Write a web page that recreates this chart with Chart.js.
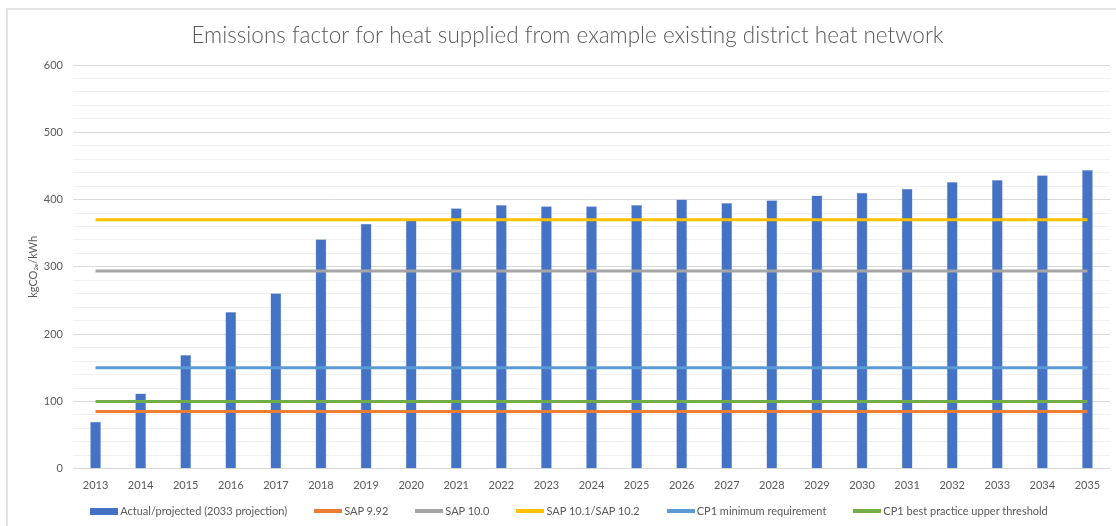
<!DOCTYPE html>
<html>
<head>
<meta charset="utf-8">
<script src="https://cdn.jsdelivr.net/npm/chart.js@4/dist/chart.umd.min.js"></script>
<style>
    html, body { margin: 0; padding: 0; background: #fff; }
    #wrap { position: relative; width: 1116px; height: 526px; overflow: hidden; }
    #frame {
        position: absolute; left: 6px; top: 8px; width: 1200px; height: 600px;
        border-left: 2px solid #e4e4e4; border-top: 2px solid #e4e4e4;
    }
    canvas { position: absolute; left: 0; top: 0; }
    #legend {
        position: absolute; left: 0; width: 1138px; top: 503px;
        display: flex; justify-content: center; align-items: center; gap: 27px;
        font-family: Lato, "Open Sans", sans-serif; font-size: 11px; color: #595959;
        line-height: 16px; white-space: nowrap;
    }
    #legend .item { display: flex; align-items: center; }
    #legend .sw { width: 28px; margin-right: 2px; }
</style>
</head>
<body>
<div id="wrap">
    <div id="frame"></div>
    <canvas id="emissionsChart" width="1116" height="526"></canvas>
    <div id="legend"></div>
</div>
<script>
// Years on the x axis
const years = ['2013', '2014', '2015', '2016', '2017', '2018', '2019', '2020', '2021', '2022', '2023', '2024',
    '2025', '2026', '2027', '2028', '2029', '2030', '2031', '2032', '2033', '2034', '2035'];

// Actual/projected emissions factor (kgCO2e/kWh)
const actualProjected = [70, 112, 169, 233, 261, 341, 364, 369, 387, 392, 390, 390,
    392, 400, 395, 399, 406, 410, 416, 426, 429, 436, 444];

// Reference thresholds
const sap992 = 85;
const sap100 = 294;
const sap101 = 370;
const cp1Minimum = 150;
const cp1BestPractice = 100;

const yTicks = [0, 100, 200, 300, 400, 500, 600];

function flatLine(value) {
    return [
        { x: years[0], y: value },
        { x: years[years.length - 1], y: value }
    ];
}

function lineSet(label, value, color) {
    return {
        type: 'line',
        label: label,
        data: flatLine(value),
        borderColor: color,
        backgroundColor: color,
        borderWidth: 3,
        pointRadius: 0,
        order: 0
    };
}

const font = 'Lato, "Open Sans", sans-serif';
const textColor = '#595959';

const ctx = document.getElementById('emissionsChart').getContext('2d');
const chart = new Chart(ctx, {
    type: 'bar',
    data: {
        labels: years,
        datasets: [
            {
                label: 'Actual/projected (2033 projection)',
                data: actualProjected,
                backgroundColor: '#4472C4',
                borderColor: '#8fabdc',
                borderWidth: 0.5,
                barPercentage: 0.24,
                categoryPercentage: 1,
                order: 1
            },
            lineSet('SAP 9.92', sap992, '#ED7D31'),
            lineSet('SAP 10.0', sap100, '#A5A5A5'),
            lineSet('SAP 10.1/SAP 10.2', sap101, '#FFC000'),
            lineSet('CP1 minimum requirement', cp1Minimum, '#5B9BD5'),
            lineSet('CP1 best practice upper threshold', cp1BestPractice, '#70AD47')
        ]
    },
    options: {
        responsive: false,
        animation: false,
        layout: {
            padding: { left: 25, right: 6, top: 0, bottom: 24 }
        },
        plugins: {
            title: {
                display: true,
                text: 'Emissions factor for heat supplied from example existing district heat network',
                color: textColor,
                font: { family: font, size: 22.5, weight: 300 },
                padding: { top: 22, bottom: 16 }
            },
            legend: { display: false },
            tooltip: { enabled: false }
        },
        scales: {
            x: {
                grid: { display: false, drawTicks: false },
                border: { display: false },
                ticks: {
                    color: textColor,
                    font: { family: font, size: 11 },
                    padding: 10,
                    maxRotation: 0,
                    autoSkip: false
                }
            },
            y: {
                min: yTicks[0],
                max: yTicks[yTicks.length - 1],
                border: { display: false },
                grid: {
                    drawTicks: false,
                    color: (c) => (c.tick && c.tick.value % 100 === 0) ? '#d9d9d9' : '#f0f0f0',
                    lineWidth: 1
                },
                ticks: {
                    stepSize: 20,
                    autoSkip: false,
                    padding: 10,
                    color: textColor,
                    font: { family: font, size: 11 },
                    callback: (v) => yTicks.includes(v) ? v : ''
                },
                title: {
                    display: true,
                    text: 'kgCO₂ₑ/kWh',
                    color: textColor,
                    font: { family: font, size: 11 },
                    padding: { top: 1.5, bottom: 0 }
                },
                afterFit: (scale) => { scale.width = 48; }
            }
        }
    }
});

// HTML legend built from the datasets
const legendDiv = document.getElementById('legend');
chart.data.datasets.forEach((ds) => {
    const item = document.createElement('span');
    item.className = 'item';
    const sw = document.createElement('span');
    sw.className = 'sw';
    sw.style.background = ds.backgroundColor;
    sw.style.height = ds.type === 'line' ? '4px' : '7px';
    const txt = document.createElement('span');
    txt.textContent = ds.label;
    item.appendChild(sw);
    item.appendChild(txt);
    legendDiv.appendChild(item);
});
</script>
</body>
</html>
